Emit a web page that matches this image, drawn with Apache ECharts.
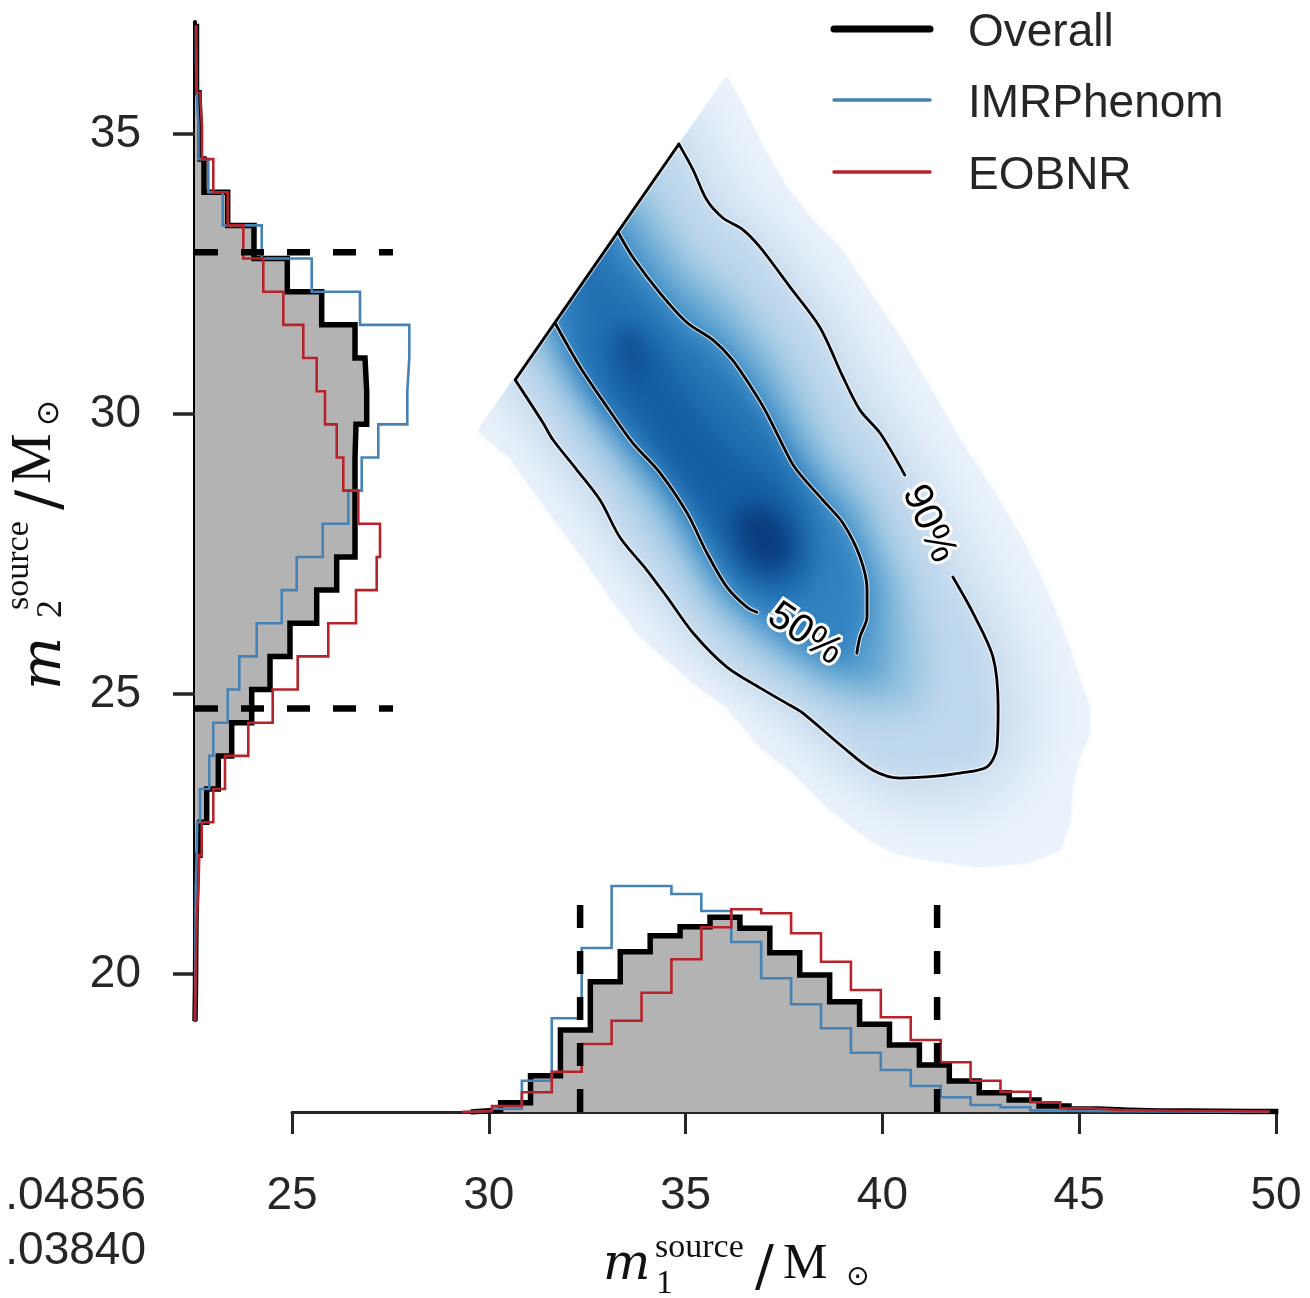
<!DOCTYPE html>
<html><head><meta charset="utf-8">
<script src="https://cdn.jsdelivr.net/npm/echarts@6/dist/echarts.min.js"></script>
<style>html,body{margin:0;padding:0;background:#fff}#c{width:1310px;height:1298px}</style>
</head><body><div id="c"></div>
<script>
// ================= DATA =================
const m1Ticks = [25, 30, 35, 40, 45, 50];
const m2Ticks = [20, 25, 30, 35];
const legendNames = ['Overall', 'IMRPhenom', 'EOBNR'];
const strayLabels = ['.04856', '.03840'];

// bottom histograms of m1 (density per bin)
const m1BinWidth = 0.76;
const m1StartOverall = 29.54;
const m1StartIMR = 29.32;
const m1StartEOB = 29.32;
const m1Overall = [0.002,0.0093,0.0363,0.082,0.1303,0.1603,0.1763,0.1853,0.1947,0.1837,0.1593,0.137,0.1103,0.0877,0.067,0.047,0.031,0.0193,0.012,0.006,0.003,0.0017,0.001,0.001,0.0007,0.0005,0.0005];
const m1IMR = [0.001,0.0033,0.0313,0.0937,0.164,0.226,0.226,0.218,0.201,0.170,0.1337,0.1077,0.0837,0.0593,0.042,0.026,0.0147,0.007,0.0047,0.0015,0.001,0.0008,0.0006,0.0005,0.0004,0.0003,0.0003];
const m1EOB = [0.001,0.006,0.0197,0.0403,0.068,0.0913,0.1193,0.1527,0.1847,0.2027,0.1987,0.1787,0.1503,0.122,0.0947,0.072,0.0497,0.0313,0.0203,0.0097,0.0037,0.002,0.0015,0.001,0.001,0.0007,0.0005];

// left histograms of m2 (bins from bottom to top)
const m2BinWidth = 0.592;
const m2Start = 19.16;
const m2Overall = [0.0005,0.0007,0.001,0.0017,0.0023,0.005,0.0117,0.0233,0.0367,0.0567,0.075,0.095,0.1217,0.1417,0.16,0.16,0.16,0.161,0.1717,0.17,0.16,0.1267,0.0923,0.059,0.0327,0.009,0.005,0.004,0.0015,0.0015];
const m2IMR = [0.0002,0.0003,0.0005,0.0007,0.0017,0.0023,0.005,0.0143,0.0183,0.0327,0.0443,0.0617,0.0867,0.1017,0.1277,0.1533,0.1667,0.1833,0.2123,0.2143,0.2143,0.165,0.1167,0.0667,0.0277,0.0133,0.0035,0.0017,0.001,0.001];
const m2EOB = [0.0005,0.001,0.0017,0.0033,0.0043,0.0067,0.0183,0.03,0.0533,0.0777,0.1027,0.1333,0.161,0.1817,0.185,0.1633,0.1483,0.1417,0.13,0.1217,0.1083,0.0883,0.0683,0.0483,0.0327,0.0183,0.007,0.005,0.0015,0.001];

// 90% credible bounds
const m1Interval = [32.32, 41.39];
const m2Interval = [24.74, 32.89];

// 2D posterior density: nested level regions [m1, m2] (outer to inner)
const densOuter = [[36.05,36.02],[36.38,35.61],[36.89,34.89],[37.53,34.09],[38.16,33.52],[38.92,32.98],[39.69,32.16],[40.45,31.38],[41.29,30.38],[41.97,29.54],[42.81,28.64],[43.57,27.75],[44.18,26.86],[44.69,25.96],[45.02,25.25],[45.27,24.77],[45.27,24.30],[45.02,23.88],[44.84,23.41],[44.77,22.70],[44.51,22.21],[43.67,21.98],[42.40,21.91],[41.13,22.04],[40.27,22.16],[39.69,22.39],[38.59,22.98],[37.65,23.64],[36.89,24.05],[36.05,24.77],[35.19,25.20],[34.53,25.61],[33.77,26.09],[33.08,26.73],[32.49,27.34],[31.81,27.98],[31.12,28.64],[30.54,29.23],[29.95,29.54],[29.73,29.71]];
const densMid = [[35.44,35.43],[35.77,34.98],[36.20,34.36],[36.89,33.73],[37.53,33.25],[38.29,32.63],[39.05,31.86],[39.94,30.73],[41.26,29.23],[42.68,27.43],[43.75,25.82],[44.11,24.77],[43.95,23.96],[43.24,23.20],[42.17,22.75],[40.37,22.84],[38.80,23.52],[36.46,24.95],[34.86,25.86],[33.54,26.98],[32.32,28.23],[31.07,29.39],[30.21,30.16]];
const contour90 = [[34.83,34.82],[35.19,34.36],[35.54,33.82],[35.95,33.50],[36.46,33.29],[36.89,32.98],[37.65,32.27],[38.41,31.55],[39.00,30.66],[39.43,30.07],[39.94,29.66],[40.57,28.91],[41.16,28.02],[41.79,27.09],[42.30,26.45],[42.81,25.66],[42.94,24.77],[42.91,24.05],[42.66,23.70],[41.97,23.59],[41.13,23.52],[40.45,23.50],[39.76,23.64],[39.00,24.05],[37.98,24.66],[37.65,24.80],[36.89,25.11],[36.05,25.48],[35.19,26.09],[34.53,26.73],[34.02,27.21],[33.33,27.80],[32.83,28.46],[32.24,29.00],[31.63,29.54],[31.38,29.84],[30.67,30.61]];
const densIn1 = [[34.04,34.04],[34.48,33.55],[35.16,32.84],[36.31,32.16],[37.58,31.00],[38.62,29.55],[39.79,28.48],[40.70,26.98],[41.08,25.70],[40.98,24.79],[39.63,24.66],[38.21,25.11],[36.71,25.84],[35.62,26.50],[34.53,27.73],[33.23,28.98],[31.96,30.20],[31.17,31.11]];
const densIn2 = [[33.66,33.64],[34.76,32.50],[36.00,31.73],[37.14,30.71],[38.19,29.30],[39.38,28.27],[40.17,26.91],[40.22,25.71],[40.02,25.14],[38.90,25.21],[37.80,25.63],[36.64,26.20],[35.59,27.00],[34.45,28.34],[33.13,29.55],[32.14,30.52],[31.43,31.38]];
const contour50 = [[33.28,33.25],[33.66,32.80],[34.35,32.16],[35.04,31.63],[35.70,31.32],[36.20,30.96],[36.71,30.43],[37.02,30.07],[37.40,29.54],[37.78,29.04],[38.49,28.46],[39.00,28.05],[39.43,27.45],[39.61,26.86],[39.61,26.38],[39.43,26.02],[39.35,25.73],[39.05,25.52],[38.16,25.79],[37.40,26.14],[36.81,26.46],[36.56,26.55],[36.05,26.91],[35.54,27.52],[35.04,28.23],[34.35,28.95],[33.66,29.48],[33.00,30.13],[32.32,30.84],[31.68,31.63]];
const densCore1 = [[32.83,32.79],[33.84,32.04],[34.86,31.23],[35.87,30.61],[36.89,29.89],[37.78,29.00],[38.29,28.11],[38.41,27.21],[37.91,26.68],[37.14,26.68],[36.38,27.04],[35.62,27.75],[34.86,28.64],[33.84,29.54],[32.83,30.25],[32.19,31.14],[32.19,32.14]];
const densCore2 = [[33.21,31.68],[33.84,31.50],[34.48,30.96],[35.11,30.25],[36.13,29.36],[37.27,28.82],[37.91,28.11],[38.03,27.39],[37.65,26.95],[36.89,26.95],[36.26,27.39],[35.49,28.29],[34.60,29.09],[33.84,29.89],[33.21,30.52],[32.95,31.14]];
const densPeak2 = [[33.38,31.45],[33.77,31.36],[34.04,30.96],[33.97,30.61],[33.64,30.64],[33.33,30.96]];
const densPeak1 = [[36.51,28.38],[37.14,28.29],[37.65,27.93],[37.70,27.48],[37.27,27.21],[36.76,27.30],[36.38,27.66],[36.26,28.11]];

// contour labels: [m1, m2, text, angle(deg, clockwise)]
const contourLabels = [[41.18, 28.04, '90%', 66], [38.03, 26.07, '50%', 34]];

// ================= STYLE / LAYOUT =================
const C_BLACK = '#000000', C_BLUE = '#4682b4', C_RED = '#b8232b', C_GREY = '#b3b3b3', C_TEXT = '#262626';
const densLevels = [densOuter, densMid, contour90, densIn1, densIn2, contour50, densCore1, densCore2, densPeak2, densPeak1];
const densColors = ['#eaf2fb', '#d5e5f3', '#bed7ec', '#94c3df', '#5fa3d1', '#3383c1', '#2370b3', '#165ea5', '#115499', '#0a3c7c'];
const densBlur = [5, 34, 30, 30, 26, 22, 26, 22, 14, 22];
const Y_MIN = 19.18, Y_MAX = 37.0;
const OFF = 5000;

function stairsBottom(start, w, h) {
  const pts = [[start, 0]];
  h.forEach((v, i) => { pts.push([start + i * w, v], [start + (i + 1) * w, v]); });
  pts.push([start + h.length * w, 0]);
  return pts;
}
function stairsLeft(start, w, h) {
  return stairsBottom(start, w, h).map(p => [p[1], p[0]]);
}

const bOverall = stairsBottom(m1StartOverall, m1BinWidth, m1Overall);
const bIMR = stairsBottom(m1StartIMR, m1BinWidth, m1IMR);
const bEOB = stairsBottom(m1StartEOB, m1BinWidth, m1EOB);
const lOverall = stairsLeft(m2Start, m2BinWidth, m2Overall);
const lIMR = stairsLeft(m2Start, m2BinWidth, m2IMR);
const lEOB = stairsLeft(m2Start, m2BinWidth, m2EOB);

function fillSeries(pts, xi, yi) {
  return {
    type: 'custom', xAxisIndex: xi, yAxisIndex: yi, data: [[0, 0]], z: 4, silent: true, clip: false,
    renderItem: (params, api) => ({ type: 'polygon', shape: { points: pts.map(p => api.coord(p)) }, style: { fill: C_GREY } })
  };
}
function stepLine(pts, xi, yi, color, width, z) {
  return {
    type: 'line', xAxisIndex: xi, yAxisIndex: yi, data: pts, symbol: 'none', showSymbol: false, z: z, silent: true,
    lineStyle: { color: color, width: width, join: 'miter', cap: 'butt' }
  };
}
function contourLine(pts, color, width, z, smooth) {
  return {
    type: 'line', xAxisIndex: 0, yAxisIndex: 0, data: pts, symbol: 'none', showSymbol: false, z: z, silent: true,
    smooth: smooth, lineStyle: { color: color, width: width, cap: 'round', join: 'round' }
  };
}
// extend a level region across the m1=m2 cut so that blurring does not fade it there (the cut is clipped)
function drawPts(lv) {
  const a = lv[0], b = lv[lv.length - 1];
  if (Math.abs(a[0] - a[1]) < 0.1 && Math.abs(b[0] - b[1]) < 0.1) {
    return lv.concat([[b[0] - 1.5, b[1] + 1.5], [a[0] - 1.5, a[1] + 1.5]]);
  }
  return lv;
}

const c90a = contour90.slice(0, 12);
const c90b = contour90.slice(13);
const c50a = contour50.slice(0, 17);
const c50b = contour50.slice(20);
const diag = [contour90[contour90.length - 1], contour90[0]];

const series = [];
// density: outer region solid, inner level regions drawn through their blurred shadow for a smooth gradient
series.push({
  type: 'custom', xAxisIndex: 0, yAxisIndex: 0, data: [[0, 0]], z: 1, silent: true, clip: false,
  renderItem: (params, api) => {
    const clipPts = [[25, 25], [50, 50], [50, Y_MIN], [25, Y_MIN]].map(p => api.coord(p));
    return {
      type: 'group',
      clipPath: { type: 'polygon', shape: { points: clipPts } },
      children: densLevels.map((lv, i) => {
        const off = i === 0 ? 0 : OFF;
        return {
          type: 'polygon',
          shape: { points: drawPts(lv).map(p => { const c = api.coord(p); return [c[0] - off, c[1]]; }) },
          style: { fill: densColors[i], shadowBlur: densBlur[i], shadowColor: densColors[i], shadowOffsetX: off, shadowOffsetY: 0 }
        };
      })
    };
  }
});
// contour halos + lines
[c90a, c90b, c50a, c50b].forEach(p => series.push(contourLine(p, 'rgba(255,255,255,0.7)', 5, 2, 0.3)));
series.push(contourLine(diag, 'rgba(255,255,255,0.7)', 5, 2, false));
[c90a, c90b, c50a, c50b].forEach(p => series.push(contourLine(p, '#000', 2.8, 3, 0.3)));
series.push(contourLine(diag, '#000', 2.8, 3, false));
// contour labels
series.push({
  type: 'custom', xAxisIndex: 0, yAxisIndex: 0, z: 4, silent: true, clip: false,
  data: contourLabels.map(l => [l[0], l[1]]),
  renderItem: (params, api) => {
    const L = contourLabels[params.dataIndex];
    const p = api.coord([L[0], L[1]]);
    return {
      type: 'text', x: p[0], y: p[1], rotation: -L[3] * Math.PI / 180,
      style: { text: L[2], fontSize: 40, fontFamily: 'Liberation Sans', fill: '#000', stroke: '#fff', lineWidth: 6,
               strokeFirst: true, align: 'center', verticalAlign: 'middle' }
    };
  }
});
// histograms
series.push(fillSeries(bOverall, 2, 2));
series.push(fillSeries(lOverall, 1, 1));
series.push(stepLine(bOverall, 2, 2, C_BLACK, 5.5, 5));
series.push(stepLine(bIMR, 2, 2, C_BLUE, 2.6, 6));
series.push(stepLine(bEOB, 2, 2, C_RED, 2.6, 6));
series.push(stepLine(lOverall, 1, 1, C_BLACK, 5.5, 5));
series.push(stepLine(lIMR, 1, 1, C_BLUE, 2.6, 6));
series.push(stepLine(lEOB, 1, 1, C_RED, 2.6, 6));
// credible interval dashed lines
const dash = { color: '#000', width: 6.5, type: [23, 23], cap: 'butt' };
m1Interval.forEach(v => series.push({ type: 'line', xAxisIndex: 2, yAxisIndex: 2, data: [[v, 0.207], [v, 0]], symbol: 'none', z: 7, silent: true, lineStyle: dash }));
m2Interval.forEach(v => series.push({ type: 'line', xAxisIndex: 1, yAxisIndex: 1, data: [[0, v], [0.198, v]], symbol: 'none', z: 7, silent: true, lineStyle: dash }));

// ---------- titles ----------
function t(x, y, text, font) {
  return { type: 'text', x: x, y: y, style: { text: text, font: font, fill: '#111', align: 'left', verticalAlign: 'middle' } };
}
const xTitle = [
  t(0, -15, 'm', 'italic 50px "DejaVu Serif"'),
  t(52, -33, 'source', '34px "Liberation Serif"'),
  t(53, 3, '1', '34px "Liberation Serif"'),
  t(152, -11, '/', '56px "DejaVu Serif"'),
  t(180, -16, 'M', '50px "Liberation Serif"'),
  t(243, -3, '\u2299', '28px "DejaVu Sans"')
];
const yTitle = [
  t(0, -17, 'm', 'italic 56px "DejaVu Serif"'),
  t(80, -43, 'source', '34px "Liberation Serif"'),
  t(72, -10, '2', '36px "Liberation Serif"'),
  t(180, -20, '/', '60px "DejaVu Serif"'),
  t(206, -27, 'M', '57px "Liberation Serif"'),
  t(264, -12, '\u2299', '31px "DejaVu Sans"')
];
const graphic = [
  { type: 'group', x: 603, y: 1281, z: 20, children: xTitle },
  { type: 'group', x: 62, y: 690, rotation: Math.PI / 2, z: 20, children: yTitle },
  { type: 'text', x: 146, y: 1196, z: 20, style: { text: strayLabels[0], font: '46px "Liberation Sans"', fill: C_TEXT, align: 'right', verticalAlign: 'middle' } },
  { type: 'text', x: 146, y: 1251, z: 20, style: { text: strayLabels[1], font: '46px "Liberation Sans"', fill: C_TEXT, align: 'right', verticalAlign: 'middle' } }
];
// legend
const legendColors = [C_BLACK, C_BLUE, C_RED];
const legendWidths = [7, 3.5, 3.5];
const legendY = [29, 100, 172];
legendNames.forEach((n, i) => {
  graphic.push({ type: 'line', z: 20, shape: { x1: 834, y1: legendY[i], x2: 930, y2: legendY[i] }, style: { stroke: legendColors[i], lineWidth: legendWidths[i], lineCap: 'round' } });
  graphic.push({ type: 'text', z: 20, x: 968, y: legendY[i] + 4, style: { text: n, font: '46px "Liberation Sans"', fill: C_TEXT, align: 'left', verticalAlign: 'middle' } });
});

const axisLabelStyle = { fontSize: 46, color: C_TEXT, fontFamily: 'Liberation Sans' };

const option = {
  animation: false,
  backgroundColor: '#ffffff',
  grid: [
    { left: 292, top: 22, width: 984, height: 998 },
    { left: 195, top: 22, width: 250, height: 998 },
    { left: 292, top: 862, width: 984, height: 250 }
  ],
  xAxis: [
    { gridIndex: 0, type: 'value', min: 25, max: 50, show: false },
    { gridIndex: 1, type: 'value', min: 0, max: 0.25, show: false },
    { gridIndex: 2, type: 'value', min: 25, max: 50, interval: 5, position: 'bottom',
      axisLine: { show: true, onZero: false, lineStyle: { color: C_TEXT, width: 3 } },
      axisTick: { show: true, length: 22, lineStyle: { color: C_TEXT, width: 3 } },
      axisLabel: Object.assign({ margin: 61, showMinLabel: true, showMaxLabel: true }, axisLabelStyle),
      splitLine: { show: false } }
  ],
  yAxis: [
    { gridIndex: 0, type: 'value', min: Y_MIN, max: Y_MAX, show: false },
    { gridIndex: 1, type: 'value', min: Y_MIN, max: Y_MAX, position: 'left',
      axisLine: { show: true, onZero: false, lineStyle: { color: '#000', width: 4 } },
      axisTick: { show: true, customValues: m2Ticks, length: 22, lineStyle: { color: C_TEXT, width: 3.5 } },
      axisLabel: Object.assign({ customValues: m2Ticks, margin: 54 }, axisLabelStyle),
      splitLine: { show: false } },
    { gridIndex: 2, type: 'value', min: 0, max: 0.25, show: false }
  ],
  graphic: graphic,
  series: series
};

const chart = echarts.init(document.getElementById('c'), null, { renderer: 'canvas', width: 1310, height: 1298 });
chart.setOption(option);
</script>
</body></html>
